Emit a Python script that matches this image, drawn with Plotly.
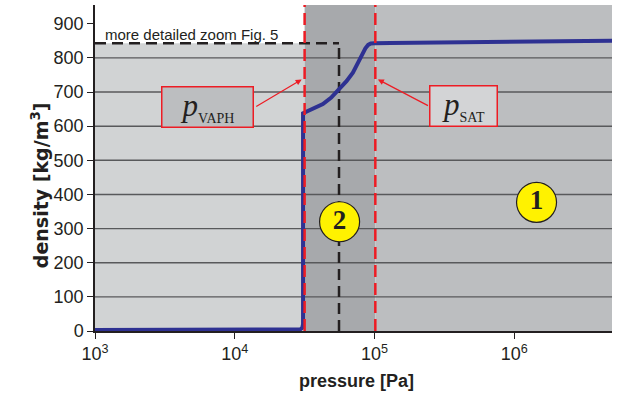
import plotly.graph_objects as go

# Density of the liquid/vapour mixture versus pressure
pressure = [1000, 5000, 15000, 25000, 29500, 30400, 30800, 30800, 36000, 42700,
            49000, 55000, 63000, 70000, 76000, 80700, 86000, 90000, 94000, 100000,
            130000, 300000, 1000000, 2500000, 5000000]
density = [3, 3, 3, 4, 5, 9, 20, 638, 650, 665,
           684, 706, 732, 757, 783, 806, 828, 838, 842, 843,
           844, 846, 848, 849, 850]

# Characteristic pressures [Pa]
P_VAPH = 31600
P_SAT = 101300

# Zoomed window (pressure limit and density limit)
ZOOM_P = 55700
ZOOM_RHO = 843

# Region markers: (log10 pressure position, density, label)
region_x = [4.75, 6.159]
region_y = [320, 377]
region_txt = ["2", "1"]

y_ticks = [0, 100, 200, 300, 400, 500, 600, 700, 800, 900]
grid_levels = [100, 200, 300, 400, 500, 600, 700, 800]
x_ticks = [1e3, 1e4, 1e5, 1e6]
x_ticktext = ["10<sup>3</sup>", "10<sup>4</sup>", "10<sup>5</sup>", "10<sup>6</sup>"]

P_MIN, P_MAX = 1e3, 5e6
RHO_TOP = 955

BLUE = "#2e3192"
RED = "#ed1c24"
YELLOW = "#fff200"
TXT = "#231f20"
SANS = "Arial, Liberation Sans, sans-serif"
SERIF = "Times New Roman, Liberation Serif, serif"

fig = go.Figure()

shapes = []
# background zones
shapes.append(dict(type="rect", xref="x", yref="y", x0=P_MIN, x1=P_VAPH, y0=0, y1=ZOOM_RHO,
                   fillcolor="#d1d3d4", line_width=0, layer="below"))
shapes.append(dict(type="rect", xref="x", yref="y", x0=P_VAPH, x1=P_SAT, y0=0, y1=RHO_TOP,
                   fillcolor="#a7a9ac", line_width=0, layer="below"))
shapes.append(dict(type="rect", xref="x", yref="y", x0=P_SAT, x1=P_MAX, y0=0, y1=RHO_TOP,
                   fillcolor="#bcbec0", line_width=0, layer="below"))
# horizontal grid
for g in grid_levels:
    shapes.append(dict(type="line", xref="x", yref="y", x0=P_MIN, x1=P_MAX, y0=g, y1=g,
                       line=dict(color="#58595b", width=1.4), layer="below"))
# zoom window outline
shapes.append(dict(type="line", xref="x", yref="y", x0=P_MIN, x1=ZOOM_P, y0=ZOOM_RHO, y1=ZOOM_RHO,
                   line=dict(color="#231f20", width=2.5, dash="11px,6px"), layer="between"))
shapes.append(dict(type="line", xref="x", yref="y", x0=ZOOM_P, x1=ZOOM_P, y0=0, y1=ZOOM_RHO,
                   line=dict(color="#231f20", width=2.5, dash="11px,6px"), layer="between"))
# characteristic pressures
for p in (P_VAPH, P_SAT):
    shapes.append(dict(type="line", xref="x", yref="y", x0=p, x1=p, y0=0, y1=RHO_TOP,
                       line=dict(color=RED, width=2.5, dash="12px,6px"), layer="above"))

fig.add_trace(go.Scatter(x=pressure, y=density, mode="lines",
                         line=dict(color=BLUE, width=4), hoverinfo="skip", showlegend=False))

fig.add_trace(go.Scatter(x=[10 ** v for v in region_x], y=region_y, mode="markers+text",
                         text=["<b>%s</b>" % t for t in region_txt], textposition="middle center",
                         textfont=dict(family=SERIF, size=27, color=TXT),
                         marker=dict(size=40, color=YELLOW, line=dict(color="#231f20", width=1.2)),
                         hoverinfo="skip", showlegend=False))

annotations = [
    dict(x=3.057, y=868, xref="x", yref="y", xanchor="left", yanchor="middle",
         text="more detailed zoom Fig. 5", showarrow=False,
         font=dict(family=SANS, size=15, color=TXT)),
    dict(x=3.807, y=657, xref="x", yref="y", xanchor="center", yanchor="middle", showarrow=False,
         text="<i>p</i><sub><span style='font-size:14px'>VAPH</span></sub>",
         font=dict(family=SERIF, size=31, color=TXT),
         bgcolor="#bcbec0", bordercolor=RED, borderwidth=1.5, width=88, height=37, borderpad=1),
    dict(x=5.634, y=660, xref="x", yref="y", xanchor="center", yanchor="middle", showarrow=False,
         text="<i>p</i><sub><span style='font-size:14px'>SAT</span></sub>",
         font=dict(family=SERIF, size=31, color=TXT),
         bgcolor="#d3d4d6", bordercolor=RED, borderwidth=1.5, width=64, height=37, borderpad=1),
    dict(x=4.479, y=737, ax=4.143, ay=655, xref="x", yref="y", axref="x", ayref="y",
         text="", showarrow=True, arrowhead=2, arrowsize=1, arrowwidth=1.2, arrowcolor=RED,
         standoff=0, startstandoff=0),
    dict(x=5.024, y=737, ax=5.393, ay=658, xref="x", yref="y", axref="x", ayref="y",
         text="", showarrow=True, arrowhead=2, arrowsize=1, arrowwidth=1.2, arrowcolor=RED,
         standoff=0, startstandoff=0),
    dict(x=-0.106, y=0.448, xref="paper", yref="paper", xanchor="center", yanchor="middle",
         textangle=-90, showarrow=False,
         text="<b>density [kg/m<sup>3</sup>]</b>",
         font=dict(family="DejaVu Sans, sans-serif", size=19, color=TXT)),
    dict(x=0.505, y=-0.153, xref="paper", yref="paper", xanchor="center", yanchor="middle",
         showarrow=False,
         text="<b>pressure [Pa]</b>", font=dict(family=SANS, size=18, color=TXT)),
]

fig.update_layout(
    width=619, height=397,
    margin=dict(l=95, r=7, t=5, b=66),
    paper_bgcolor="white", plot_bgcolor="white",
    shapes=shapes, annotations=annotations,
    showlegend=False,
    xaxis=dict(type="log", range=[3, 6.699], tickvals=x_ticks, ticktext=x_ticktext,
               showgrid=False, zeroline=False, showline=True, linecolor="#231f20", linewidth=1.5,
               ticks="outside", ticklen=6, tickcolor="#231f20", tickwidth=1,
               tickfont=dict(family=SANS, size=18, color=TXT)),
    yaxis=dict(range=[0, RHO_TOP], tickvals=y_ticks, showgrid=False, zeroline=False,
               showline=True, linecolor="#231f20", linewidth=1.5,
               ticks="outside", ticklen=6, tickcolor="#231f20", tickwidth=1,
               tickfont=dict(family=SANS, size=18, color=TXT)),
)

fig.write_html("out.html")
